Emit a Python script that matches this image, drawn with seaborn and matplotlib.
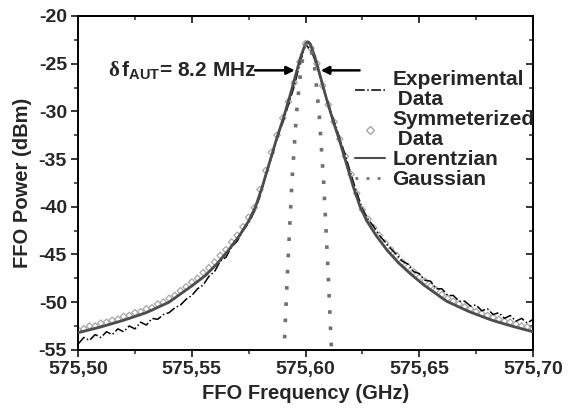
import numpy as np
import pandas as pd
import matplotlib
matplotlib.use("Agg")
import matplotlib.pyplot as plt
from matplotlib.ticker import MultipleLocator, FuncFormatter
from matplotlib.lines import Line2D
import seaborn as sns

# ---------------- data ----------------
grid_freq = [575.5000, 575.5025, 575.5050, 575.5075, 575.5100, 575.5125, 575.5150, 575.5175,
             575.5200, 575.5225, 575.5250, 575.5275, 575.5300, 575.5325, 575.5350, 575.5375,
             575.5400, 575.5425, 575.5450, 575.5475, 575.5500, 575.5525, 575.5550, 575.5575,
             575.5600, 575.5625, 575.5650, 575.5675, 575.5700, 575.5725, 575.5750, 575.5775,
             575.5800, 575.5825, 575.5850, 575.5875, 575.5900, 575.5925, 575.5950, 575.5975,
             575.6000, 575.6025, 575.6050, 575.6075, 575.6100, 575.6125, 575.6150, 575.6175,
             575.6200, 575.6225, 575.6250, 575.6275, 575.6300, 575.6325, 575.6350, 575.6375,
             575.6400, 575.6425, 575.6450, 575.6475, 575.6500, 575.6525, 575.6550, 575.6575,
             575.6600, 575.6625, 575.6650, 575.6675, 575.6700, 575.6725, 575.6750, 575.6775,
             575.6800, 575.6825, 575.6850, 575.6875, 575.6900, 575.6925, 575.6950, 575.6975,
             575.7000]

experimental_power = [-54.4, -53.7, -54.0, -53.4, -53.7, -53.1, -53.4, -52.8,
                      -53.1, -52.5, -52.8, -52.1, -52.4, -51.7, -51.8, -51.3,
                      -51.1, -50.6, -50.3, -49.7, -49.3, -48.6, -48.2, -47.3,
                      -46.8, -45.7, -45.3, -44.2, -43.6, -42.5, -41.7, -40.5,
                      -38.9, -36.7, -34.9, -32.8, -31.2, -29.3, -27.4, -25.0,
                      -23.0, -23.6, -25.2, -27.3, -29.2, -31.0, -32.8, -34.6,
                      -36.6, -38.5, -40.2, -41.3, -42.1, -43.0, -43.7, -44.4,
                      -45.0, -45.7, -46.0, -46.8, -47.0, -47.7, -47.8, -48.6,
                      -48.6, -49.3, -49.3, -49.9, -49.9, -50.4, -50.3, -50.9,
                      -50.7, -51.3, -51.1, -51.7, -51.4, -52.0, -51.7, -52.2,
                      -51.8]

symmetrized_power = [-52.9, -52.8, -52.5, -52.5, -52.2, -52.1, -51.9, -51.8,
                     -51.5, -51.4, -51.1, -51.0, -50.7, -50.6, -50.2, -50.0,
                     -49.6, -49.3, -48.8, -48.4, -47.9, -47.5, -46.9, -46.4,
                     -45.8, -45.1, -44.5, -43.7, -43.0, -42.1, -41.1, -40.1,
                     -38.2, -36.2, -34.3, -32.5, -30.7, -29.0, -27.0, -24.8,
                     -22.9, -23.4, -25.0, -27.3, -29.3, -31.1, -32.9, -34.7,
                     -36.6, -38.6, -40.3, -41.3, -42.2, -43.0, -43.8, -44.5,
                     -45.1, -45.8, -46.3, -46.8, -47.4, -47.8, -48.3, -48.7,
                     -49.2, -49.6, -49.9, -50.2, -50.5, -50.7, -51.0, -51.2,
                     -51.4, -51.6, -51.8, -52.0, -52.1, -52.3, -52.5, -52.6,
                     -52.8]

lorentz_freq = [575.500, 575.510, 575.520, 575.530, 575.540, 575.550, 575.556, 575.561,
                575.566, 575.571, 575.575, 575.578, 575.581, 575.584, 575.587, 575.590,
                575.593, 575.596, 575.598, 575.600, 575.601, 575.602, 575.604, 575.606,
                575.609, 575.612, 575.615, 575.618, 575.621, 575.624, 575.627, 575.631,
                575.636, 575.641, 575.646, 575.652, 575.662, 575.672, 575.682, 575.692,
                575.700]
lorentz_power = [-53.2, -52.6, -51.9, -51.1, -50.0, -48.3, -47.2, -46.0,
                 -44.6, -43.0, -41.5, -40.0, -37.9, -35.5, -33.1, -30.9,
                 -28.5, -25.9, -24.2, -22.9, -22.7, -22.9, -24.2, -25.9,
                 -28.5, -30.9, -33.1, -35.5, -37.9, -40.0, -41.5, -43.0,
                 -44.6, -45.9, -47.0, -48.2, -49.9, -51.0, -51.9, -52.6,
                 -53.1]

gauss_freq = [575.5905, 575.592, 575.594, 575.596, 575.598, 575.600, 575.601,
              575.602, 575.604, 575.606, 575.608, 575.610, 575.6115]
gauss_power = [-55.5, -47.2, -37.5, -30.3, -25.4, -23.0, -22.7,
               -23.0, -25.4, -30.3, -37.5, -47.2, -55.5]

legend_labels = ["Experimental\n Data", "Symmeterized\n Data", "Lorentzian", "Gaussian"]
annotation = r"$\mathrm{\delta}\,\mathbf{f}_{\mathbf{AUT}}$= 8.2 MHz"

# ---------------- styling ----------------
sns.set_style("ticks")
plt.rcParams["font.family"] = ["Liberation Sans", "DejaVu Sans"]
plt.rcParams["font.weight"] = "bold"
plt.rcParams["axes.unicode_minus"] = False
plt.rcParams["mathtext.fontset"] = "custom"
plt.rcParams["mathtext.rm"] = "Liberation Serif"
plt.rcParams["mathtext.it"] = "Liberation Serif:italic"
plt.rcParams["mathtext.bf"] = "Liberation Sans:bold"

fig = plt.figure(figsize=(5.7, 4.2), dpi=100)
ax = fig.add_axes([0.137, 0.167, 0.798, 0.795])

df_exp = pd.DataFrame({"f": grid_freq, "p": experimental_power})
df_sym = pd.DataFrame({"f": grid_freq, "p": symmetrized_power})
df_lor = pd.DataFrame({"f": lorentz_freq, "p": lorentz_power})
df_gau = pd.DataFrame({"f": gauss_freq, "p": gauss_power})

sns.scatterplot(data=df_sym, x="f", y="p", ax=ax, marker="D", s=11,
                facecolor="none", edgecolor="#a8a8a8", linewidth=0.9, zorder=2)
sns.lineplot(data=df_exp, x="f", y="p", ax=ax, color="black", lw=1.1,
             linestyle="-.", sort=False, zorder=3)
sns.lineplot(data=df_lor, x="f", y="p", ax=ax, color="#4d4d4d", lw=2.0,
             sort=False, zorder=4)
sns.lineplot(data=df_gau, x="f", y="p", ax=ax, color="#707070", lw=2.6,
             linestyle=(0, (1, 3.5)), sort=False, zorder=4)

ax.set_xlim(575.50, 575.70)
ax.set_ylim(-55, -20)
ax.xaxis.set_major_locator(MultipleLocator(0.05))
ax.xaxis.set_minor_locator(MultipleLocator(0.025))
ax.yaxis.set_major_locator(MultipleLocator(5))
ax.yaxis.set_minor_locator(MultipleLocator(2.5))
ax.xaxis.set_major_formatter(FuncFormatter(lambda v, p: f"{v:.2f}".replace(".", ",")))
ax.yaxis.set_major_formatter(FuncFormatter(lambda v, p: f"{v:.0f}"))

for s in ax.spines.values():
    s.set_linewidth(1.4)
    s.set_color("black")

ax.tick_params(axis="both", which="major", direction="out", length=5, width=1.3,
               labelsize=14, pad=3)
ax.tick_params(axis="both", which="minor", direction="out", length=3, width=1.1)
ax.tick_params(axis="both", which="both", top=False, right=False)
# inward ticks on top and right
axt = ax.secondary_xaxis("top")
axt.xaxis.set_major_locator(MultipleLocator(0.05))
axt.xaxis.set_minor_locator(MultipleLocator(0.025))
axt.tick_params(which="major", direction="in", length=5, width=1.3, labeltop=False)
axt.tick_params(which="minor", direction="in", length=3, width=1.1)
axt.spines["top"].set_linewidth(1.4)
axr = ax.secondary_yaxis("right")
axr.yaxis.set_major_locator(MultipleLocator(5))
axr.yaxis.set_minor_locator(MultipleLocator(2.5))
axr.tick_params(which="major", direction="in", length=5, width=1.3, labelright=False)
axr.tick_params(which="minor", direction="in", length=3, width=1.1)
axr.spines["right"].set_linewidth(1.4)

for lab in ax.get_xticklabels() + ax.get_yticklabels():
    lab.set_fontweight("bold")

ax.set_xlabel("FFO Frequency (GHz)", fontsize=14.5, fontweight="bold", labelpad=4)
ax.set_ylabel("FFO Power (dBm)", fontsize=14.5, fontweight="bold", labelpad=5)

# annotation with arrows
ax.text(575.5130, -25.7, annotation, fontsize=15, fontweight="bold",
        ha="left", va="center")
ax.annotate("", xy=(575.5965, -25.7), xytext=(575.5765, -25.7),
            arrowprops=dict(arrowstyle="-|>", color="black", lw=1.8,
                            mutation_scale=12))
ax.annotate("", xy=(575.6055, -25.7), xytext=(575.6250, -25.7),
            arrowprops=dict(arrowstyle="-|>", color="black", lw=1.8,
                            mutation_scale=12))

handles = [
    Line2D([], [], color="black", lw=1.1, linestyle="-."),
    Line2D([], [], color="#a8a8a8", marker="D", markersize=4, markerfacecolor="none",
           linestyle="none"),
    Line2D([], [], color="#4d4d4d", lw=1.5),
    Line2D([], [], color="#707070", lw=2.0, linestyle=(0, (1, 3))),
]
leg = ax.legend(handles, legend_labels, loc="upper left", bbox_to_anchor=(0.591, 0.862),
                frameon=False, fontsize=15, handlelength=1.45, handletextpad=0.33,
                labelspacing=0.05, borderaxespad=0)
for t in leg.get_texts():
    t.set_fontweight("bold")
    t.set_linespacing(1.05)

fig.savefig("out.png", dpi=100)
